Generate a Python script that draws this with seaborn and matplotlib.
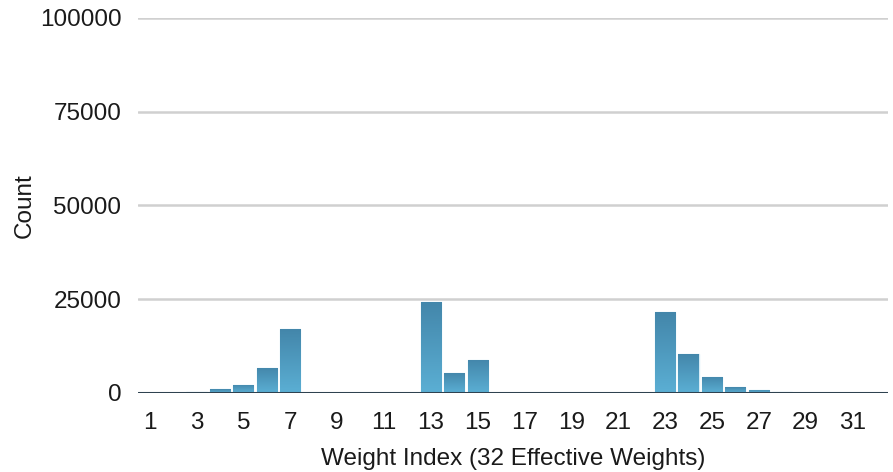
import matplotlib
matplotlib.use("Agg")
import matplotlib.pyplot as plt
import numpy as np
import pandas as pd
import seaborn as sns
from matplotlib.colors import LinearSegmentedColormap

# Histogram of weight-index usage
weight_index = list(range(1, 33))
counts = [80, 80, 150, 1000, 2200, 6700, 17000, 60, 60, 60, 60, 60,
          24300, 5400, 8800, 60, 60, 60, 60, 60, 60, 60,
          21500, 10400, 4300, 1500, 900, 200, 120, 100, 100, 100]
y_ticks = [0, 25000, 50000, 75000, 100000]
x_tick_labels = [str(i) for i in weight_index if i % 2 == 1]

df = pd.DataFrame({"idx": weight_index, "count": counts})

sns.set_theme(style="white")
plt.rcParams["font.family"] = ["Liberation Sans", "DejaVu Sans"]

fig = plt.figure(figsize=(8.93, 4.72), dpi=100)
ax = fig.add_axes([0.1545, 0.1674, 0.8395, 0.7946])

sns.barplot(data=df, x="idx", y="count", ax=ax, color="#4f9cc2",
            width=0.86, edgecolor="#d6ecf6", linewidth=1.0, zorder=3)

ax.set_ylim(0, 100000)
ax.set_xlim(-0.5, 31.5)

# vertical gradient fill inside each bar
cmap = LinearSegmentedColormap.from_list("bar", ["#5bafd4", "#4386aa"])
grad = np.linspace(0, 1, 256).reshape(-1, 1)
for p in list(ax.patches):
    x0, y0 = p.get_x(), p.get_y()
    w, h = p.get_width(), p.get_height()
    if h <= 0:
        continue
    im = ax.imshow(grad, cmap=cmap, origin="lower", aspect="auto",
                   extent=[x0, x0 + w, y0, y0 + h], zorder=3.5,
                   interpolation="bilinear")
    im.set_clip_path(p)
ax.set_xlim(-0.5, 31.5)
ax.set_ylim(0, 100000)

# grid lines and baseline
for yv in y_ticks[1:]:
    ax.axhline(yv, color="#d0d0d0", linewidth=1.8, zorder=1)
ax.axhline(0, color="#2f4250", linewidth=2.2, zorder=5)

for s in ax.spines.values():
    s.set_visible(False)

ax.set_yticks(y_ticks)
ax.set_yticklabels([str(v) for v in y_ticks])
ax.set_xticks([i - 1 for i in weight_index if i % 2 == 1])
ax.set_xticklabels(x_tick_labels)
ax.tick_params(axis="both", length=0, labelsize=17.5, colors="#1a1a1a")
ax.tick_params(axis="y", pad=12)
ax.tick_params(axis="x", pad=14)

ax.set_xlabel("Weight Index (32 Effective Weights)", fontsize=17.5,
              color="#1a1a1a", labelpad=10)
ax.set_ylabel("Count", fontsize=17.5, color="#1a1a1a", labelpad=3)

fig.savefig("out.png", dpi=100)
